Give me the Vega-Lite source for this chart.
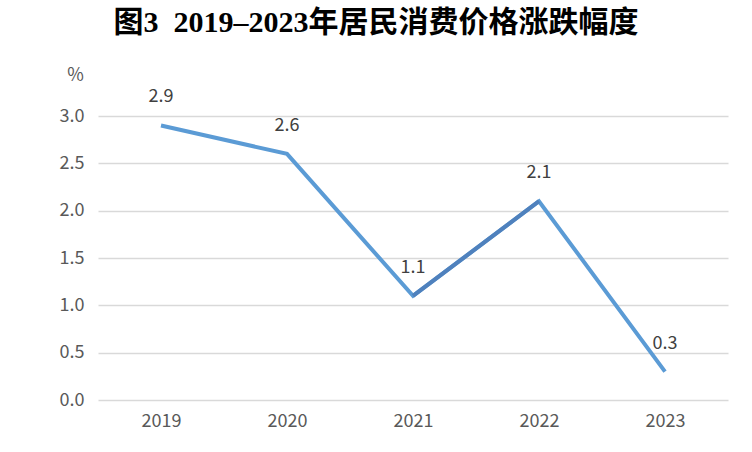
{
  "$schema": "https://vega.github.io/schema/vega-lite/v6.json",
  "width": 630,
  "height": 284,
  "autosize": {"type": "none"},
  "padding": {"left": 98, "top": 116, "right": 24, "bottom": 52},
  "background": "white",
  "title": {
    "text": "图3\u00a0\u00a02019–2023年居民消费价格涨跌幅度",
    "font": "Liberation Serif, Noto Sans CJK SC",
    "fontSize": 30,
    "fontWeight": "bold",
    "color": "#000000",
    "anchor": "middle",
    "dx": -37,
    "offset": 28
  },
  "data": {
    "values": [
      {"year": "2019", "cpi": 2.9},
      {"year": "2020", "cpi": 2.6},
      {"year": "2021", "cpi": 1.1},
      {"year": "2022", "cpi": 2.1},
      {"year": "2023", "cpi": 0.3}
    ]
  },
  "encoding": {
    "x": {
      "field": "year",
      "type": "ordinal",
      "scale": {"type": "point", "padding": 0.5},
      "axis": {
        "title": null,
        "labelAngle": 0,
        "domain": false,
        "ticks": false,
        "labelPadding": 12,
        "labelFont": "Noto Sans CJK SC",
        "labelFontSize": 18,
        "labelColor": "#595959"
      }
    },
    "y": {
      "field": "cpi",
      "type": "quantitative",
      "scale": {"domain": [0, 3], "nice": false},
      "axis": {
        "values": [0, 0.5, 1, 1.5, 2, 2.5, 3],
        "format": ".1f",
        "title": "%",
        "titleAngle": 0,
        "titleX": -23,
        "titleY": -41,
        "titleAlign": "center",
        "titleBaseline": "middle",
        "titleFont": "Noto Sans CJK SC",
        "titleFontSize": 18,
        "titleFontWeight": "normal",
        "titleColor": "#595959",
        "domain": false,
        "ticks": false,
        "labelPadding": 14,
        "labelFont": "Noto Sans CJK SC",
        "labelFontSize": 18,
        "labelColor": "#595959",
        "gridColor": "#d9d9d9",
        "gridWidth": 1.5
      }
    }
  },
  "layer": [
    {
      "mark": {"type": "line", "color": "#5b9bd5", "strokeWidth": 4, "strokeJoin": "miter"}
    },
    {
      "transform": [{"filter": "datum.year == '2021' || datum.year == '2022'"}],
      "mark": {"type": "line", "color": "#4f81bd", "strokeWidth": 4}
    },
    {
      "mark": {"type": "text", "dy": -28, "font": "Noto Sans CJK SC", "fontSize": 18, "color": "#404040"},
      "encoding": {"text": {"field": "cpi", "type": "quantitative", "format": ".1f"}}
    }
  ],
  "config": {"view": {"stroke": null}}
}
